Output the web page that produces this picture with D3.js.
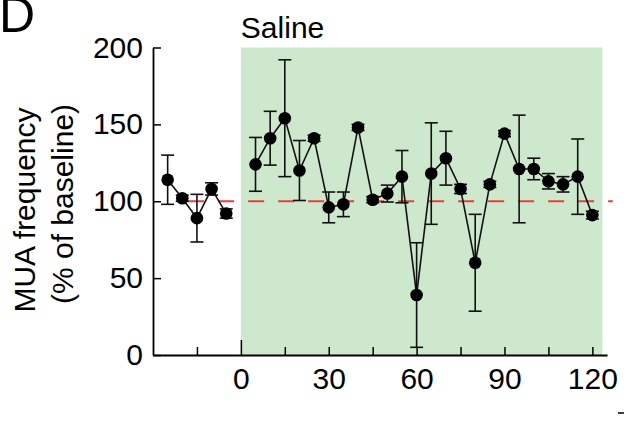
<!DOCTYPE html>
<html>
<head>
<meta charset="utf-8">
<script src="https://cdn.jsdelivr.net/npm/d3@7"></script>
<style>
  body { margin: 0; background: #fff; }
  text { font-family: "Liberation Sans", Arial, sans-serif; }
</style>
</head>
<body>
<div class="chart"></div>
<script>
// data (time in min, MUA as % of baseline, error = half bar)
var baseTimes = [-25, -20, -15, -10, -5];
var baseValues = [114, 102, 89, 108, 92];
var baseErrors = [16, 2, 15.5, 4, 3];

var drugTimes = [5, 10, 15, 20, 25, 30, 35, 40, 45, 50, 55, 60, 65, 70, 75, 80, 85, 90, 95, 100, 105, 110, 115, 120];
var drugValues = [124, 141, 154, 120, 141, 96, 98, 148, 101, 105, 116, 39, 118, 128, 108, 60, 111, 144, 121, 121, 113, 111, 116, 91];
var drugErrors = [17.5, 17.5, 38, 19.5, 2, 10, 8, 2, 2, 5.5, 17, 34, 33, 17.5, 3, 31.5, 2, 2, 35, 7, 5, 5, 24.5, 2.5];

var yTicks = [0, 50, 100, 150, 200];
var xTicks = [-15, 0, 15, 30, 45, 60, 75, 90, 105, 120];
var xLabels = [0, 30, 60, 90, 120];

var svgWidth = 624, svgHeight = 444;

var svg = d3.select(".chart")
  .append("svg")
  .attr("width", svgWidth)
  .attr("height", svgHeight);

var xScale = d3.scaleLinear()
  .domain([-30, 125])
  .range([153, 607]);

var yScale = d3.scaleLinear()
  .domain([0, 200])
  .range([355, 47.5]);

// saline period shading
svg.append("rect")
  .attr("x", xScale(0))
  .attr("y", yScale(200))
  .attr("width", xScale(123.4) - xScale(0))
  .attr("height", yScale(0) - yScale(200))
  .attr("fill", "#cde8cd");

svg.append("text")
  .attr("x", xScale(0))
  .attr("y", 38)
  .attr("font-size", "30px")
  .text("Saline");

// baseline reference
svg.append("line")
  .attr("x1", xScale(-18))
  .attr("x2", xScale(127))
  .attr("y1", yScale(100))
  .attr("y2", yScale(100))
  .attr("stroke", "#e2413d")
  .attr("stroke-width", 2)
  .attr("stroke-dasharray", "16,14");

// axes
var yAxis = d3.axisLeft(yScale)
  .tickValues(yTicks)
  .tickSizeInner(-8)
  .tickSizeOuter(0)
  .tickPadding(10);

var xAxis = d3.axisBottom(xScale)
  .tickValues(xTicks)
  .tickSizeInner(-8)
  .tickSizeOuter(0)
  .tickPadding(13)
  .tickFormat(d => xLabels.indexOf(d) >= 0 ? d : "");

var gx = svg.append("g")
  .attr("transform", `translate(0, ${yScale(0)})`)
  .call(xAxis);

var gy = svg.append("g")
  .attr("transform", `translate(${xScale(-30)}, 0)`)
  .call(yAxis);

[gx, gy].forEach(function (g) {
  g.select(".domain").attr("stroke", "#000").attr("stroke-width", 1.8);
  g.selectAll(".tick line").attr("stroke", "#000").attr("stroke-width", 1.5);
  g.selectAll(".tick text")
    .attr("font-family", "Liberation Sans, Arial, sans-serif")
    .attr("font-size", "30px")
    .attr("fill", "#000");
});

// the tick at drug onset is drawn taller
gx.selectAll(".tick line").filter(d => d === 0).attr("y2", -15);

// y label
var yLabel = svg.append("text")
  .attr("transform", "translate(35, 210) rotate(-90)")
  .attr("text-anchor", "middle")
  .attr("font-size", "30px");
yLabel.append("tspan").attr("x", 0).attr("y", 0).text("MUA frequency");
yLabel.append("tspan").attr("x", 6).attr("y", 38).text("(% of baseline)");

// panel letter (its top is cropped in the original figure)
svg.append("text")
  .attr("x", -1)
  .attr("y", 32)
  .attr("font-size", "50px")
  .text("D");

// crop remnant at bottom right
svg.append("line")
  .attr("x1", 618).attr("x2", 624)
  .attr("y1", 413).attr("y2", 413)
  .attr("stroke", "#000").attr("stroke-width", 1.5);

function drawSeries(times, values, errors) {
  var data = times.map((t, i) => ({ t: t, v: values[i], e: errors[i] }));

  var line = d3.line()
    .x(d => xScale(d.t))
    .y(d => yScale(d.v));

  var bars = svg.append("g")
    .attr("stroke", "#111")
    .attr("stroke-width", 1.6);

  bars.selectAll(".err")
    .data(data)
    .enter()
    .append("line")
    .attr("x1", d => xScale(d.t))
    .attr("x2", d => xScale(d.t))
    .attr("y1", d => yScale(d.v + d.e))
    .attr("y2", d => yScale(d.v - d.e));

  bars.selectAll(".capTop")
    .data(data)
    .enter()
    .append("line")
    .attr("x1", d => xScale(d.t) - 6.5)
    .attr("x2", d => xScale(d.t) + 6.5)
    .attr("y1", d => yScale(d.v + d.e))
    .attr("y2", d => yScale(d.v + d.e));

  bars.selectAll(".capBot")
    .data(data)
    .enter()
    .append("line")
    .attr("x1", d => xScale(d.t) - 6.5)
    .attr("x2", d => xScale(d.t) + 6.5)
    .attr("y1", d => yScale(d.v - d.e))
    .attr("y2", d => yScale(d.v - d.e));

  svg.append("path")
    .datum(data)
    .attr("d", line)
    .attr("fill", "none")
    .attr("stroke", "#111")
    .attr("stroke-width", 1.6);

  svg.append("g")
    .selectAll("circle")
    .data(data)
    .enter()
    .append("circle")
    .attr("cx", d => xScale(d.t))
    .attr("cy", d => yScale(d.v))
    .attr("r", 6.3)
    .attr("fill", "#000");
}

drawSeries(baseTimes, baseValues, baseErrors);
drawSeries(drugTimes, drugValues, drugErrors);
</script>
</body>
</html>
